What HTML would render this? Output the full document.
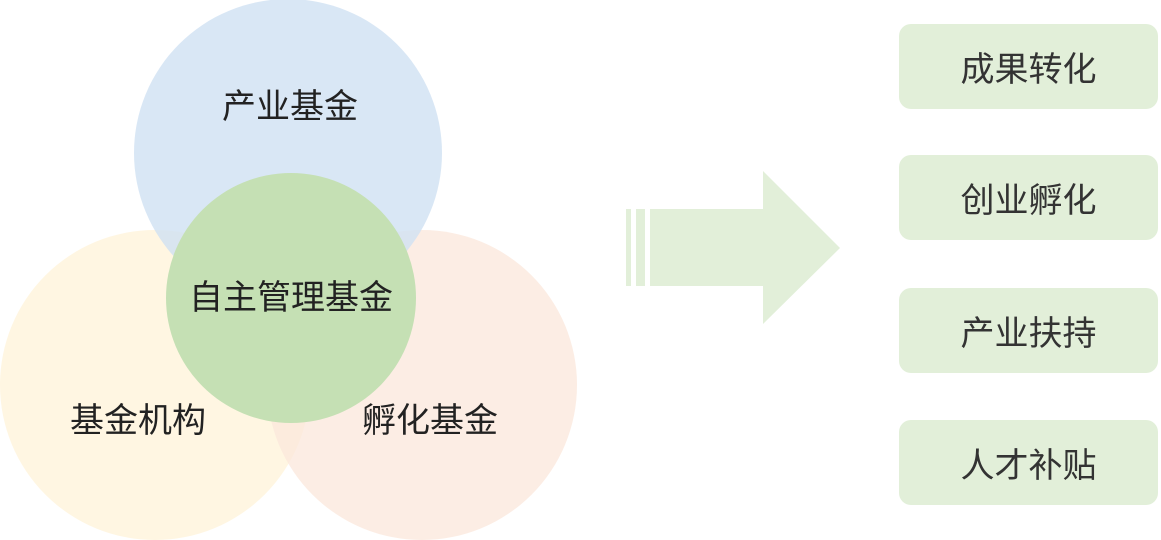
<!DOCTYPE html>
<html><head><meta charset="utf-8"><style>
body{margin:0;width:1161px;height:540px;background:#fff;overflow:hidden;font-family:"Liberation Sans","Noto Sans CJK SC",sans-serif;}
svg{position:absolute;left:0;top:0}
.b{position:absolute;left:899px;width:259px;height:85px;background:#e2efd9;border-radius:12px;display:flex;align-items:center;justify-content:center;font-size:34px;color:#333;}
</style></head><body>
<svg width="1161" height="540">
<circle cx="155" cy="385" r="155" fill="#fff4dd" opacity="0.85"/>
<circle cx="422" cy="385" r="155" fill="#fbe7db" opacity="0.75"/>
<circle cx="288" cy="153" r="154" fill="#cfe1f2" opacity="0.8"/>
<circle cx="291" cy="298" r="125" fill="#c5e0b4"/>
<g fill="#e2efd9">
<rect x="626" y="209" width="5" height="77"/>
<rect x="636" y="209" width="9" height="77"/>
<polygon points="650,209 763,209 763,171 840,248 763,324 763,286 650,286"/>
</g>
<g font-family="Liberation Sans,Noto Sans CJK SC,sans-serif" font-size="34" fill="#222" text-anchor="middle">
<text x="290" y="118">产业基金</text>
<text x="291" y="309">自主管理基金</text>
<text x="138" y="432">基金机构</text>
<text x="430" y="432">孵化基金</text>
</g>
</svg>
<div class="b" style="top:24px">成果转化</div>
<div class="b" style="top:155px">创业孵化</div>
<div class="b" style="top:288px">产业扶持</div>
<div class="b" style="top:420px">人才补贴</div>
</body></html>
